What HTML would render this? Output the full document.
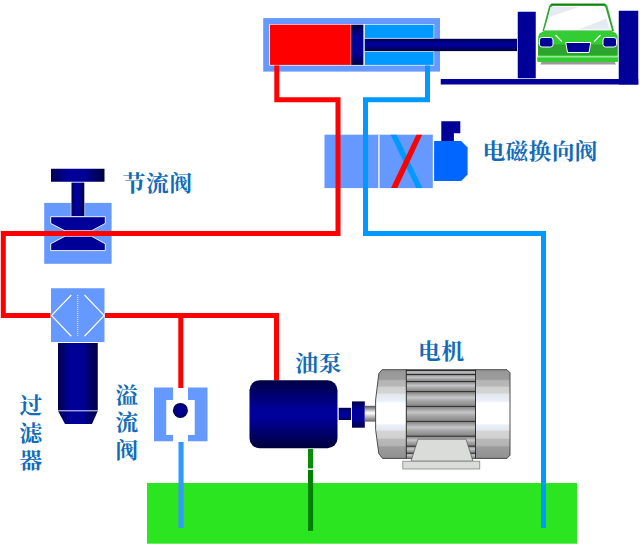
<!DOCTYPE html>
<html lang="zh-CN">
<head>
<meta charset="utf-8">
<title>液压系统</title>
<style>
html,body{margin:0;padding:0;background:#fff;}
body{width:640px;height:547px;overflow:hidden;position:relative;}
svg{display:block;position:absolute;left:0;top:0;}
text{font-family:"Liberation Serif","Noto Serif CJK SC",serif;font-weight:700;fill:#116bb8;font-size:21.5px;}
</style>
</head>
<body>
<svg width="640" height="547" viewBox="0 0 640 547">
<defs>
  <linearGradient id="gH" x1="0" y1="0" x2="1" y2="0">
    <stop offset="0" stop-color="#000050"/><stop offset="0.3" stop-color="#000099"/><stop offset="0.6" stop-color="#000099"/><stop offset="1" stop-color="#000040"/>
  </linearGradient>
  <linearGradient id="gV" x1="0" y1="0" x2="0" y2="1">
    <stop offset="0" stop-color="#000048"/><stop offset="0.3" stop-color="#000099"/><stop offset="0.7" stop-color="#000099"/><stop offset="1" stop-color="#000048"/>
  </linearGradient>
  <linearGradient id="gRod" x1="0" y1="0" x2="0" y2="1">
    <stop offset="0" stop-color="#000040"/><stop offset="0.35" stop-color="#000099"/><stop offset="0.6" stop-color="#000099"/><stop offset="1" stop-color="#000030"/>
  </linearGradient>
  <linearGradient id="gPump" x1="0" y1="0" x2="0" y2="1">
    <stop offset="0" stop-color="#000044"/><stop offset="0.44" stop-color="#00009c"/><stop offset="0.54" stop-color="#00009c"/><stop offset="1" stop-color="#00003c"/>
  </linearGradient>
  <radialGradient id="gBall" cx="0.5" cy="0.5" r="0.5">
    <stop offset="0" stop-color="#0000a0"/><stop offset="0.6" stop-color="#000088"/><stop offset="1" stop-color="#000050"/>
  </radialGradient>
  <linearGradient id="gCap" gradientUnits="userSpaceOnUse" x1="0" y1="369.5" x2="0" y2="458.5">
    <stop offset="0" stop-color="#969696"/><stop offset="0.11" stop-color="#9c9c9c"/><stop offset="0.125" stop-color="#b4b4b4"/><stop offset="0.185" stop-color="#b8b8b8"/><stop offset="0.2" stop-color="#d0d0d0"/><stop offset="0.265" stop-color="#d4d4d4"/><stop offset="0.28" stop-color="#e4e8ee"/><stop offset="0.355" stop-color="#eaf0f8"/><stop offset="0.375" stop-color="#ffffff"/><stop offset="0.605" stop-color="#ffffff"/><stop offset="0.625" stop-color="#eaf0f8"/><stop offset="0.68" stop-color="#e4e8ee"/><stop offset="0.695" stop-color="#d4d4d4"/><stop offset="0.77" stop-color="#d0d0d0"/><stop offset="0.785" stop-color="#b8b8b8"/><stop offset="0.855" stop-color="#b4b4b4"/><stop offset="0.87" stop-color="#9c9c9c"/><stop offset="1" stop-color="#909090"/>
  </linearGradient>
  <linearGradient id="gFin" x1="0" y1="0" x2="0" y2="1">
    <stop offset="0" stop-color="#7c7c7c"/><stop offset="0.2" stop-color="#a4a4a4"/><stop offset="0.4" stop-color="#c6c6ca"/><stop offset="0.65" stop-color="#a4a4a4"/><stop offset="1" stop-color="#848484"/>
  </linearGradient>
  <linearGradient id="gShaft" x1="0" y1="0" x2="0" y2="1">
    <stop offset="0" stop-color="#555"/><stop offset="0.45" stop-color="#fff"/><stop offset="1" stop-color="#666"/>
  </linearGradient>
</defs>

<!-- tank -->
<rect x="147" y="483" width="430" height="60.7" fill="#2ae51f"/>

<!-- directional valve -->
<rect x="324.5" y="134.7" width="108.3" height="53.4" fill="#6699ff"/>
<rect x="378.1" y="134.7" width="1.6" height="53.4" fill="#e3ebff"/>
<path d="M390.6 134.7H396.6L422.4 188.1H416.2z" fill="#0099ff"/>
<path d="M416.4 134.7H422.2L397.3 188.1H391z" fill="#ff0000"/>
<path d="M434.1 141H461.2L467.6 147.4V174.6L461.2 181H434.1z" fill="#0066ff"/>
<path d="M441.3 121.2H460.3V133.3H453.9V141H441.3z" fill="#000099"/>

<!-- cylinder -->
<rect x="263.2" y="18.1" width="176.8" height="53.5" fill="#6699ff"/>
<rect x="269.2" y="24" width="165" height="41.6" fill="#ffffff"/>
<rect x="270" y="24.700" width="80.700" height="40.200" fill="#ff0000"/>
<rect x="364.800" y="24.700" width="68.800" height="40.200" fill="#0099ff"/>
<rect x="351.200" y="24.700" width="12.200" height="40.200" fill="url(#gV)"/>
<rect x="364.600" y="37.900" width="69" height="14" fill="#d4e8ff"/>
<rect x="364.800" y="38.800" width="152.200" height="12.300" fill="url(#gRod)"/>

<!-- stand / platform -->
<rect x="517.75" y="11.75" width="18" height="66.5" fill="#000099"/>
<rect x="440.75" y="79" width="197.5" height="5.5" fill="#000099"/>
<rect x="618.75" y="10.75" width="19.5" height="73.75" fill="#000099"/>

<!-- car -->
<g>
  <path d="M540.400 64.600h75.600l-1.500 -3h-72.600z" fill="#9a9a9a"/>
  <path d="M542.500 31 L549 6.500 Q549.800 3.800 552 3.800 H604.500 Q606.500 3.800 607.500 6.500 L614 31z" fill="#2ea62e"/>
  <rect x="551" y="3.700" width="54.500" height="1.100" fill="#157015"/>
  <path d="M544 30.5 L551 7.5 Q551.5 6 553 6 H603.5 Q605 6 605.5 7.5 L612 30.5z" fill="#ffffff"/>
  <path d="M550.500 7 L579 7 L548 17.500z" fill="#e6ebf3"/>
  <path d="M578 29.500 L606.500 18.500 L609.500 29.500z" fill="#e6ebf3"/>
  <path d="M538.200 36.500 L539.500 33.500 L544 31 H612 L616.300 33.500 L617.600 36.500 V57.500 H538.200z" fill="#33cc33"/>
  <path d="M538 44.5 H617.5 V55 H538z" fill="#2da42d"/>
  <rect x="537.200" y="56.300" width="81" height="5.800" rx="1.500" fill="#33cc33"/>
  <rect x="537.500" y="56.400" width="80.500" height="0.900" fill="#e0f8e0"/>
  <rect x="539.5" y="37.5" width="13.5" height="9.5" rx="2.5" fill="#000099" stroke="#ffffff" stroke-width="1"/>
  <rect x="603" y="37.5" width="13.5" height="9.5" rx="2.5" fill="#000099" stroke="#ffffff" stroke-width="1"/>
  <path d="M565.75 42.5 H590.75 L589 52.5 H567.5z" fill="#000099" stroke="#ffffff" stroke-width="1"/>
  <path d="M555.500 35 L561.800 41.600" stroke="#ffffff" stroke-width="1.100" fill="none"/>
  <path d="M600.500 35 L594.200 41.600" stroke="#ffffff" stroke-width="1.100" fill="none"/>
</g>

<!-- throttle valve -->
<rect x="44.200" y="202.900" width="67.400" height="60.900" fill="#6699ff"/>
<rect x="51" y="168.75" width="53.5" height="13" fill="url(#gH)"/>
<rect x="70.6" y="203" width="14.6" height="13.5" fill="#b9ceff"/>
<rect x="71.5" y="182.6" width="12.8" height="33.4" fill="url(#gH)"/>
<path d="M50.7 216.7H105.3V223.4L91.5 230.75H65L50.7 223.4z" fill="#000099" stroke="#ffffff" stroke-width="0.9"/>
<path d="M65 236.2H91.5L105.3 243.8V250.6H50.7V243.8z" fill="#000099" stroke="#ffffff" stroke-width="0.9"/>

<!-- filter -->
<rect x="51" y="288.25" width="53.5" height="53.75" fill="#6699ff"/>
<path d="M71.25 295L51.5 315.5L71.25 336.25" fill="none" stroke="#ffffff" stroke-width="1.1"/>
<path d="M84.5 295L104.25 315.5L84.5 336.25" fill="none" stroke="#ffffff" stroke-width="1.1"/>
<line x1="77.75" y1="295" x2="77.75" y2="336" stroke="#ffffff" stroke-width="0.9" stroke-dasharray="1 1"/>
<rect x="58" y="343" width="39.75" height="68" fill="url(#gH)"/>
<path d="M58 411H97.75L92 424H65z" fill="url(#gH)"/>
<rect x="58" y="410.3" width="39.75" height="1" fill="#e0e0ff"/>

<!-- relief valve -->
<path d="M154 387.5H173V400H166.25V435H173V441.25H154z" fill="#6699ff"/>
<path d="M207.5 387.5H188V400H194.75V435H188V441.25H207.5z" fill="#6699ff"/>
<circle cx="180.4" cy="410.4" r="7.5" fill="url(#gBall)"/>

<!-- pipes red -->
<g fill="none" stroke="#ff0000" stroke-width="5" stroke-linejoin="miter">
  <path d="M276.8 65.5V99.7H338V233.4H3.3V315.6H50.5"/>
  <path d="M105 315.600H276.500V380.500"/>
  <path d="M180.800 315.600V388"/>
</g>
<!-- pipes blue -->
<g fill="none" stroke="#0099ff" stroke-width="5" stroke-linejoin="miter">
  <path d="M427.500 65.500V99.700H365.500V233.400H543.500V528"/>
</g>
<rect x="178.5" y="442" width="5.1" height="86" fill="#3399ff"/>
<rect x="308" y="448.900" width="5.100" height="19.500" fill="#0a8c0a"/>
<rect x="308" y="469.900" width="5.100" height="61" fill="#008000"/>

<!-- pump -->
<rect x="249.5" y="380.2" width="88" height="68" rx="10" fill="url(#gPump)"/>
<rect x="338.7" y="407.8" width="12.3" height="12.2" fill="url(#gV)"/>
<rect x="352" y="401.4" width="12.8" height="26.3" fill="url(#gV)"/>
<rect x="364.8" y="405.8" width="11.2" height="15.8" fill="url(#gShaft)"/>

<!-- motor -->
<g>
  <path d="M382 369.7H507L510 372.7V455.2L507 458.4H382.5L378.8 453.5L375.6 429.4V400L378.8 373.7z" fill="url(#gCap)" stroke="#3c3c3c" stroke-width="0.900"/>
  <rect x="406.3" y="370" width="69.2" height="88" fill="#999"/>
  <rect x="406.3" y="370.5" width="69.2" height="4" fill="url(#gFin)"/>
  <rect x="406.3" y="374.5" width="69.2" height="7" fill="url(#gFin)"/>
  <rect x="406.3" y="381.5" width="69.2" height="10" fill="url(#gFin)"/>
  <rect x="406.3" y="391.6" width="69.2" height="14.8" fill="url(#gFin)"/>
  <rect x="406.3" y="406.4" width="69.2" height="15" fill="url(#gFin)"/>
  <rect x="406.3" y="421.4" width="69.2" height="14.8" fill="url(#gFin)"/>
  <rect x="406.3" y="436.2" width="69.2" height="10" fill="url(#gFin)"/>
  <rect x="406.3" y="446.2" width="69.2" height="7" fill="url(#gFin)"/>
  <rect x="406.3" y="453.2" width="69.2" height="5" fill="url(#gFin)"/>
  <g stroke="#222" stroke-width="0.9">
    <line x1="406.3" y1="370.5" x2="475.5" y2="370.5"/>
    <line x1="406.3" y1="374.5" x2="475.5" y2="374.5"/>
    <line x1="406.3" y1="381.5" x2="475.5" y2="381.5"/>
    <line x1="406.3" y1="391.6" x2="475.5" y2="391.6"/>
    <line x1="406.3" y1="406.4" x2="475.5" y2="406.4"/>
    <line x1="406.3" y1="421.4" x2="475.5" y2="421.4"/>
    <line x1="406.3" y1="436.2" x2="475.5" y2="436.2"/>
    <line x1="406.3" y1="446.2" x2="475.5" y2="446.2"/>
    <line x1="406.3" y1="453.2" x2="475.5" y2="453.2"/>
    <line x1="406.3" y1="369.5" x2="406.3" y2="458.4"/>
    <line x1="475.5" y1="369.5" x2="475.5" y2="458.4"/>
  </g>
  <path d="M418 439.2H466L473 461.2H411z" fill="#d9dcd9" stroke="#555" stroke-width="0.7"/>
  <rect x="402.8" y="461.2" width="77" height="7.8" fill="#d9dcd9" stroke="#777" stroke-width="0.7"/>
</g>

<!-- labels -->
<text transform="translate(482.4 159) scale(1.06 1)" textLength="108.68" lengthAdjust="spacing">电磁换向阀</text>
<text transform="translate(122.4 190.8) scale(1.06 1)" textLength="66.04" lengthAdjust="spacing">节流阀</text>
<text transform="translate(295.3 371.2) scale(1.06 1)" textLength="43.58" lengthAdjust="spacing">油泵</text>
<text transform="translate(418 358.5) scale(1.06 1)" textLength="43.40" lengthAdjust="spacing">电机</text>
<text transform="translate(19.6 413.3) scale(1.06 1)">过</text>
<text transform="translate(19.6 441) scale(1.06 1)">滤</text>
<text transform="translate(19.6 467.6) scale(1.06 1)">器</text>
<text transform="translate(115.6 403.3) scale(1.06 1)">溢</text>
<text transform="translate(115.6 430.4) scale(1.06 1)">流</text>
<text transform="translate(115.6 458) scale(1.06 1)">阀</text>
</svg>
</body>
</html>
